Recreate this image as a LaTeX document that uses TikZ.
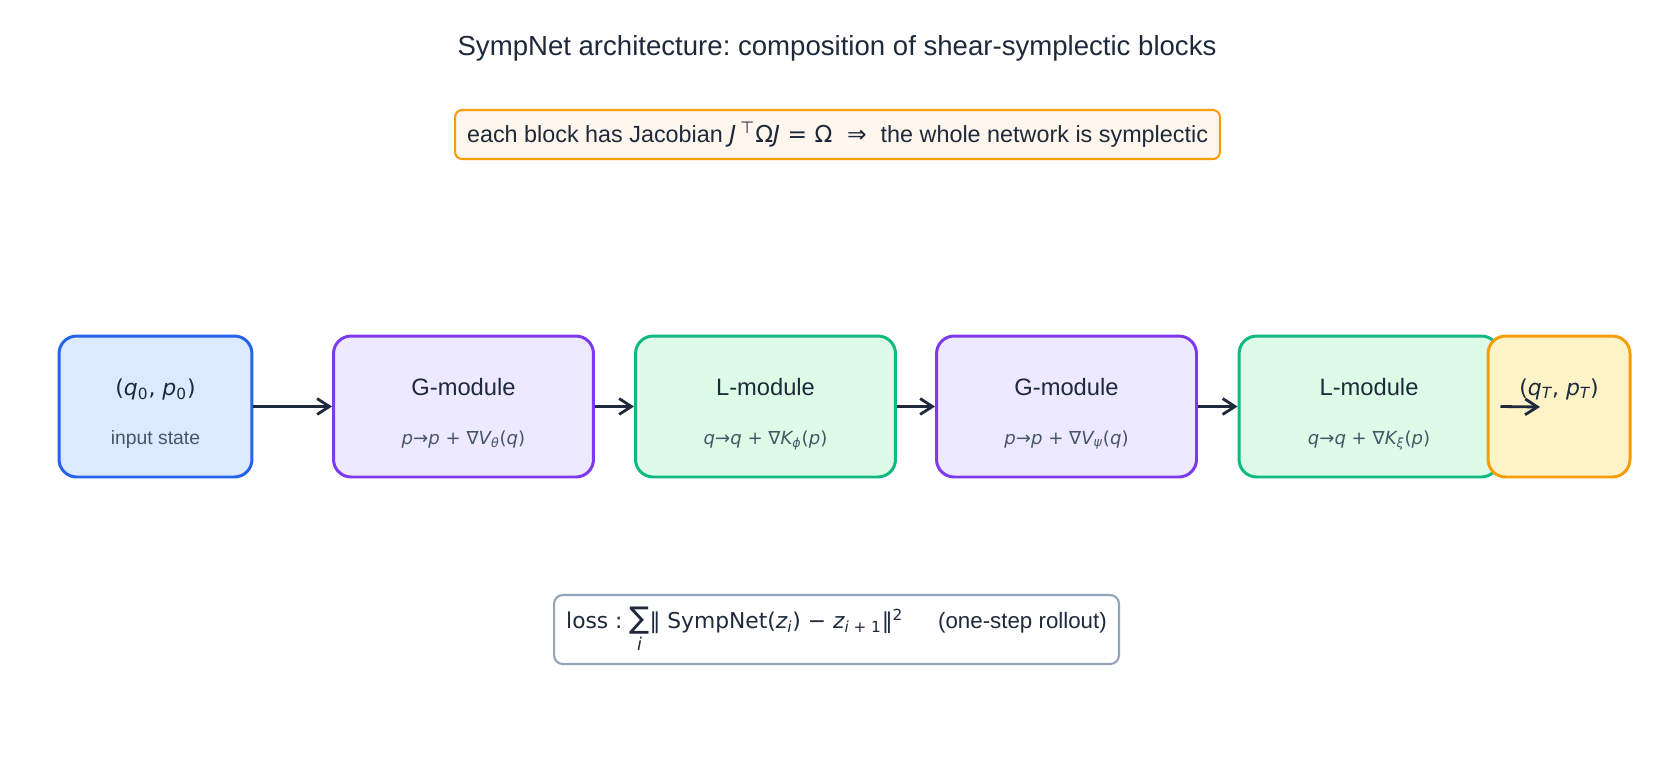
\documentclass[tikz,border=0pt]{standalone}
\usepackage{fontspec}
\setmainfont{Liberation Sans}
\newfontfamily\dvs{DejaVu Sans}
\usetikzlibrary{positioning, arrows.meta}
\definecolor{SNInk}{HTML}{1E293B}
\definecolor{SNGray}{HTML}{475569}
\definecolor{SNBlue}{HTML}{2563EB}
\definecolor{SNBlueBg}{HTML}{DBEAFE}
\definecolor{SNPurple}{HTML}{7C3AED}
\definecolor{SNPurpleBg}{HTML}{EDE9FE}
\definecolor{SNGreen}{HTML}{10B981}
\definecolor{SNGreenBg}{HTML}{DCFCE7}
\definecolor{SNOrange}{HTML}{F59E0B}
\definecolor{SNOrangeBg}{HTML}{FEF3C7}
\definecolor{SNNoteBg}{HTML}{FFF7ED}
\definecolor{SNSlate}{HTML}{94A3B8}
\newcommand{\mv}[1]{{\dvs\itshape #1}}
\newcommand{\subl}[1]{{\fontsize{10.3}{12}\selectfont\color{SNGray}\dvs #1}}
\newcommand{\hd}{\rule{0pt}{18.5pt}}
\frenchspacing

\begin{document}
\begin{tikzpicture}[x=0.02cm, y=-0.02cm,
          blk/.style={rectangle, rounded corners=10pt, line width=1.7pt,
                      minimum width=5.2cm, minimum height=2.82cm, align=center,
                      text=SNInk, font=\fontsize{13.5}{16}\selectfont},
          arr/.style={-{Straight Barb[length=7pt, width=9pt]}, draw=SNInk,
                      line width=1.6pt}
        ]
        \useasboundingbox (0,0) rectangle (1675,774);

        \node[text=SNInk, font=\fontsize{15.7}{18}\selectfont]
              (title) at (837, 48)
              {SympNet architecture: composition of shear-symplectic blocks};

        \node[rectangle, rounded corners=4pt, draw=SNOrange, fill=SNNoteBg,
              line width=1.2pt, minimum width=15.3cm, minimum height=0.98cm,
              text=SNInk, font=\fontsize{13.3}{15}\selectfont]
              (note) at (837.5, 134.5)
              {each block has Jacobian {\dvs\mv{J}\,\textsuperscript{⊤}Ω\mv{J} = Ω \ ⇒\ } the whole network is symplectic};

        \node[blk, draw=SNBlue, fill=SNBlueBg, minimum width=3.86cm]
              (inp) at (155.5, 406.5)
              {\hd{\dvs\fontsize{12.5}{15}\selectfont (\mv{q}\textsubscript{0}, \mv{p}\textsubscript{0})}\\[12pt]
               {\fontsize{11}{12}\selectfont\color{SNGray} input state\strut}};

        \node[blk, draw=SNPurple, fill=SNPurpleBg] (g1) at (463.5, 406.5)
              {\hd G-module\\[12pt]
               \subl{\mv{p}→\mv{p} + ∇\mv{V}\textsubscript{\mv{θ}}(\mv{q})\strut}};

        \node[blk, draw=SNGreen, fill=SNGreenBg] (l1) at (765.5, 406.5)
              {\hd L-module\\[12pt]
               \subl{\mv{q}→\mv{q} + ∇\mv{K}\textsubscript{\mv{ϕ}}(\mv{p})\strut}};

        \node[blk, draw=SNPurple, fill=SNPurpleBg] (g2) at (1066.5, 406.5)
              {\hd G-module\\[12pt]
               \subl{\mv{p}→\mv{p} + ∇\mv{V}\textsubscript{\mv{ψ}}(\mv{q})\strut}};

        \node[blk, draw=SNGreen, fill=SNGreenBg] (l2) at (1369, 406.5)
              {\hd L-module\\[12pt]
               \subl{\mv{q}→\mv{q} + ∇\mv{K}\textsubscript{\mv{ξ}}(\mv{p})\strut}};

        \node[blk, draw=SNOrange, fill=SNOrangeBg, minimum width=2.84cm]
              (out) at (1559, 406.5)
              {\hd{\dvs\fontsize{12.5}{15}\selectfont (\mv{q}\textsubscript{\mv{T}}, \mv{p}\textsubscript{\mv{T}})}\\[12pt]
               \subl{\strut}};
        \coordinate (outtip) at (1540, 407);

        \draw[arr] (inp) -- (g1);
        \draw[arr] (g1) -- (l1);
        \draw[arr] (l1) -- (g2);
        \draw[arr] (g2) -- (l2);
        \draw[arr] (l2.east) -- (outtip);

        \node[rectangle, rounded corners=5pt, draw=SNSlate, fill=white,
              line width=1.2pt, minimum width=11.3cm, minimum height=1.38cm,
              text=SNInk, font=\fontsize{12.4}{15}\selectfont]
              (loss) at (836.5, 629.5)
              {{\dvs loss : $\mathop{\hbox{\dvs\fontsize{17}{17}\selectfont ∑}}\limits_{\hbox{\fontsize{10}{10}\selectfont\mv{i}}}$‖ SympNet(\mv{z}\textsubscript{\mv{i}}) − \mv{z}\textsubscript{\mv{i} + 1}‖\textsuperscript{2}}\hspace{1.6em}{\fontsize{12.7}{15}\selectfont (one-step rollout)}};
      \end{tikzpicture}
\end{document}
